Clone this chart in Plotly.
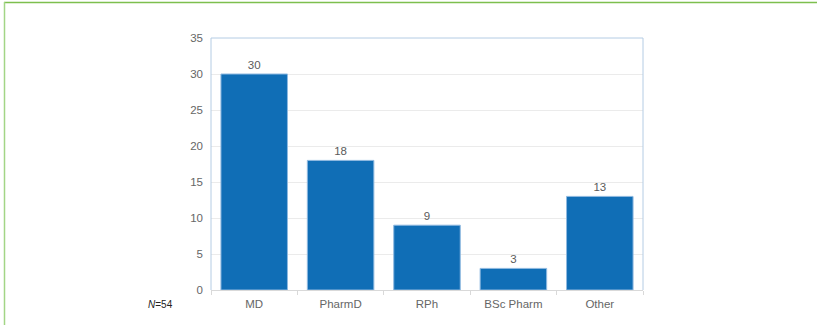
import plotly.graph_objects as go

categories = ["MD", "PharmD", "RPh", "BSc Pharm", "Other"]
counts = [30, 18, 9, 3, 13]
y_ticks = [0, 5, 10, 15, 20, 25, 30, 35]

W, H = 817, 325
L, R, T, B = 211, 174, 38, 35
pw, ph = W - L - R, H - T - B

def px_x(x):
    return (x - L) / pw

def px_y(y):
    return (H - B - y) / ph

fig = go.Figure(go.Bar(
    x=categories,
    y=counts,
    marker=dict(color="#106eb6", line=dict(color="#8fb9e0", width=1)),
    text=[str(v) for v in counts],
    textposition="outside",
    textfont=dict(color="#5a5a5a", size=11.5),
    cliponaxis=False,
    width=0.77,
))

fig.update_layout(
    width=W, height=H,
    margin=dict(l=L, r=R, t=T, b=B),
    paper_bgcolor="white",
    plot_bgcolor="white",
    font=dict(family="Liberation Sans, Arial, sans-serif", color="#666666", size=11),
    showlegend=False,
    xaxis=dict(
        tickson="boundaries",
        ticks="outside",
        ticklen=4,
        tickcolor="#d9d9d9",
        showline=True,
        linecolor="#d9d9d9",
        showgrid=False,
        ticklabelstandoff=3,
        tickfont=dict(size=11.5, color="#666666"),
    ),
    yaxis=dict(
        range=[0, 35],
        tickvals=y_ticks,
        showgrid=True,
        gridcolor="#ebebeb",
        zeroline=False,
        showline=False,
        ticks="",
        ticklabelstandoff=7,
        tickfont=dict(size=11.5, color="#666666"),
    ),
    shapes=[
        # light blue frame on left, top and right of the plot area
        dict(type="line", xref="paper", yref="paper", x0=0, x1=0, y0=0, y1=1,
             line=dict(color="#b4cce4", width=1)),
        dict(type="line", xref="paper", yref="paper", x0=0, x1=1, y0=1, y1=1,
             line=dict(color="#b4cce4", width=1)),
        dict(type="line", xref="paper", yref="paper", x0=1, x1=1, y0=0, y1=1,
             line=dict(color="#b4cce4", width=1)),
        # green page rule along the top and left edge
        dict(type="line", xref="paper", yref="paper",
             x0=px_x(4), x1=px_x(W + 5), y0=px_y(2.5), y1=px_y(2.5),
             line=dict(color="#7dbf4e", width=1.5)),
        dict(type="line", xref="paper", yref="paper",
             x0=px_x(4.5), x1=px_x(4.5), y0=px_y(2), y1=px_y(H + 5),
             line=dict(color="#a3d586", width=1.5)),
    ],
    annotations=[
        dict(text="<i>N</i>=54", xref="paper", yref="paper",
             x=px_x(160), y=px_y(304), showarrow=False,
             font=dict(size=10, color="#222222"), xanchor="center", yanchor="middle"),
    ],
)

fig.write_html("out.html")
